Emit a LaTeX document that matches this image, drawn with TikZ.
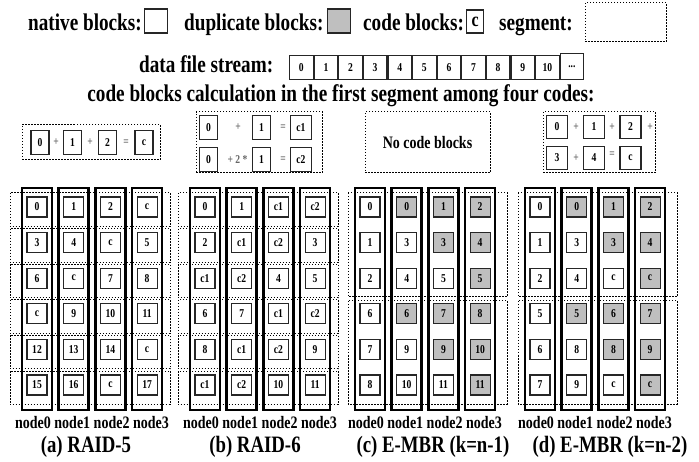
\documentclass[tikz,border=0pt]{standalone}
\usepackage{fontspec}
\newfontfamily\tf{Liberation Serif Bold}[FakeStretch=0.8]
\newcommand\myfs[1]{\fontsize{#1}{#1}\selectfont}
\begin{document}
\begin{tikzpicture}[x=1pt,y=-1pt,
  lbl/.style={font=\tf\myfs{24}, inner sep=0pt},
  blk/.style={draw=black!85, line width=1.1pt, minimum width=20pt, minimum height=20pt, inner sep=0pt, font=\tf\myfs{12}},
  nat/.style={},
  dup/.style={fill=black!25},
  seg/.style={draw, line width=1pt, dash pattern=on 1.5pt off 1.5pt},
  segr/.style={line width=1pt, dash pattern=on 1.5pt off 1.5pt},
  colbox/.style={draw, line width=2.6pt},
  eqb/.style={blk, minimum width=18pt, minimum height=24pt},
  op/.style={font=\tf\myfs{12}, text=black!60, inner sep=0pt},
  nl/.style={font=\tf\myfs{17.5}, inner sep=0pt},
  captxt/.style={font=\tf\myfs{23.5}, inner sep=0pt}]
\useasboundingbox (0,0) rectangle (699,462);
% legend
\node[lbl, anchor=base east] (tnat) at (142,31) {native blocks:};
\node[blk, minimum width=23pt, minimum height=24pt, anchor=west] (bnat) at (143.5,21) {};
\node[lbl, anchor=base west] (tdup) at (184,31) {duplicate blocks:};
\node[blk, dup, minimum width=23pt, minimum height=24pt, anchor=west] (bdup) at (327,21) {};
\node[lbl, anchor=base west] (tcod) at (363,31) {code blocks:};
\node[blk, minimum width=17pt, minimum height=23pt, anchor=west, font=\tf\myfs{20}] (bcod) at (466,21.5) {c};
\node[lbl, anchor=base west] (tseg) at (499,31) {segment:};
\node[seg, minimum width=81pt, minimum height=39pt] (bseg) at (625.5,22.5) {};
% data file stream
\node[lbl, anchor=base west] (tstr) at (139,73) {data file stream:};
\foreach \v [count=\i from 0] in {0,1,2,3,4,5,6,7,8,9,10}
  \node[blk, minimum width=23.5pt, minimum height=24pt] (s\i) at (301.3+24.6*\i,67.5) {\v};
\node[blk, minimum width=23.5pt, minimum height=26pt] (s11) at (301.3+24.6*11,66.5) {...};
% title
\node[lbl, anchor=base] (title) at (341,102) {code blocks calculation in the first segment among four codes:};
% equation a
\node[seg, minimum width=138pt, minimum height=35pt] (ea) at (91,142.5) {};
\node[eqb] (ea0) at (40,142.5) {0};
\node[op] (ea1) at (56,142.5) {+};
\node[eqb] (ea2) at (72.5,142.5) {1};
\node[op] (ea3) at (90,142.5) {+};
\node[eqb] (ea4) at (107.5,142.5) {2};
\node[op] (ea5) at (126,142.5) {=};
\node[eqb] (ea6) at (144,142.5) {c};
% equation b
\node[seg, minimum width=126pt, minimum height=61pt] (eb) at (259,142.5) {};
\node[eqb] (eb0) at (208.5,127.5) {0};
\node[op] (eb1) at (238,127.5) {+};
\node[eqb] (eb2) at (261.5,127.5) {1};
\node[op] (eb3) at (283,127.5) {=};
\node[eqb, minimum width=21pt] (eb4) at (301,127.5) {c1};
\node[eqb] (eb5) at (208.5,159.5) {0};
\node[op] (eb6) at (237.5,159.5) {+ 2 *};
\node[eqb] (eb7) at (261.5,159.5) {1};
\node[op] (eb8) at (283,159.5) {=};
\node[eqb, minimum width=21pt] (eb9) at (301,159.5) {c2};
% equation c
\node[seg, minimum width=125pt, minimum height=61pt] (ec) at (427.5,142.5) {};
\node[nl] (ect) at (427.5,142.5) {No code blocks};
% equation d
\node[seg, minimum width=112pt, minimum height=61pt] (ed) at (599,142.5) {};
\node[eqb, minimum width=21pt, minimum height=23pt] (ed0) at (557,127) {0};
\node[op] (ed1) at (576,127) {+};
\node[eqb, minimum width=21pt, minimum height=23pt] (ed2) at (594,127) {1};
\node[op] (ed3) at (612,127) {+};
\node[eqb, minimum width=21pt, minimum height=23pt] (ed4) at (630.5,127) {2};
\node[op] (ed5) at (650,127) {+};
\node[eqb, minimum width=21pt, minimum height=23pt] (ed6) at (557,158) {3};
\node[op] (ed7) at (576,158) {+};
\node[eqb, minimum width=21pt, minimum height=23pt] (ed8) at (594,158) {4};
\node[op] (ed9) at (612,155) {=};
\node[eqb, minimum width=21pt, minimum height=23pt] (ed10) at (630.5,158) {c};
% grid a
\foreach \row [count=\r from 0] in {{0,1,2,c},{3,4,c,5},{6,c,7,8},{c,9,10,11},{12,13,14,c},{15,16,c,17}} {
  \draw[segr] (10,193+35.6*\r) rectangle ++(160,33.5);
  \foreach \v [count=\k from 0] in \row
    \node[blk] (a-\r-\k) at (37+36.7*\k,207+35.6*\r) {\v};
}
\foreach \k in {0,...,3} \draw[colbox] (22+36.7*\k,188) rectangle ++(30,222);
% grid b
\foreach \row [count=\r from 0] in {{0,1,c1,c2},{2,c1,c2,3},{c1,c2,4,5},{6,7,c1,c2},{8,c1,c2,9},{c1,c2,10,11}} {
  \draw[segr] (178,193+35.6*\r) rectangle ++(160,33.5);
  \foreach \v [count=\k from 0] in \row
    \node[blk] (b-\r-\k) at (205+36.7*\k,207+35.6*\r) {\v};
}
\foreach \k in {0,...,3} \draw[colbox] (190+36.7*\k,188) rectangle ++(30,222);
% grid c
\draw[segr] (348,193) rectangle ++(159,104);
\draw[segr] (348,301) rectangle ++(159,103);
\foreach \row [count=\r from 0] in {{0/nat,0/dup,1/dup,2/dup},{1/nat,3/nat,3/dup,4/dup},{2/nat,4/nat,5/nat,5/dup},{6/nat,6/dup,7/dup,8/dup},{7/nat,9/nat,9/dup,10/dup},{8/nat,10/nat,11/nat,11/dup}} {
  \foreach \v/\f [count=\k from 0] in \row
    \node[blk,\f] (c-\r-\k) at (370+36.7*\k,207+35.6*\r) {\v};
}
\foreach \k in {0,...,3} \draw[colbox] (355+36.7*\k,188) rectangle ++(30,222);
% grid d
\draw[segr] (518,193) rectangle ++(159,104);
\draw[segr] (518,301) rectangle ++(159,103);
\foreach \row [count=\r from 0] in {{0/nat,0/dup,1/dup,2/dup},{1/nat,3/nat,3/dup,4/dup},{2/nat,4/nat,c/nat,c/dup},{5/nat,5/dup,6/dup,7/dup},{6/nat,8/nat,8/dup,9/dup},{7/nat,9/nat,c/nat,c/dup}} {
  \foreach \v/\f [count=\k from 0] in \row
    \node[blk,\f] (d-\r-\k) at (540+36.7*\k,207+35.6*\r) {\v};
}
\foreach \k in {0,...,3} \draw[colbox] (525+36.7*\k,188) rectangle ++(30,222);
% labels
\node[nl] (na) at (92,423) {node0 node1 node2 node3};
\node[nl] (nb) at (260,423) {node0 node1 node2 node3};
\node[nl] (nc) at (425,423) {node0 node1 node2 node3};
\node[nl] (nd) at (595,423) {node0 node1 node2 node3};
\node[captxt] (ca) at (86,447) {(a) RAID-5};
\node[captxt] (cb) at (255,447) {(b) RAID-6};
\node[captxt] (cc) at (433,447) {(c) E-MBR (k=n-1)};
\node[captxt] (cd) at (610,447) {(d) E-MBR (k=n-2)};
\end{tikzpicture}
\end{document}
